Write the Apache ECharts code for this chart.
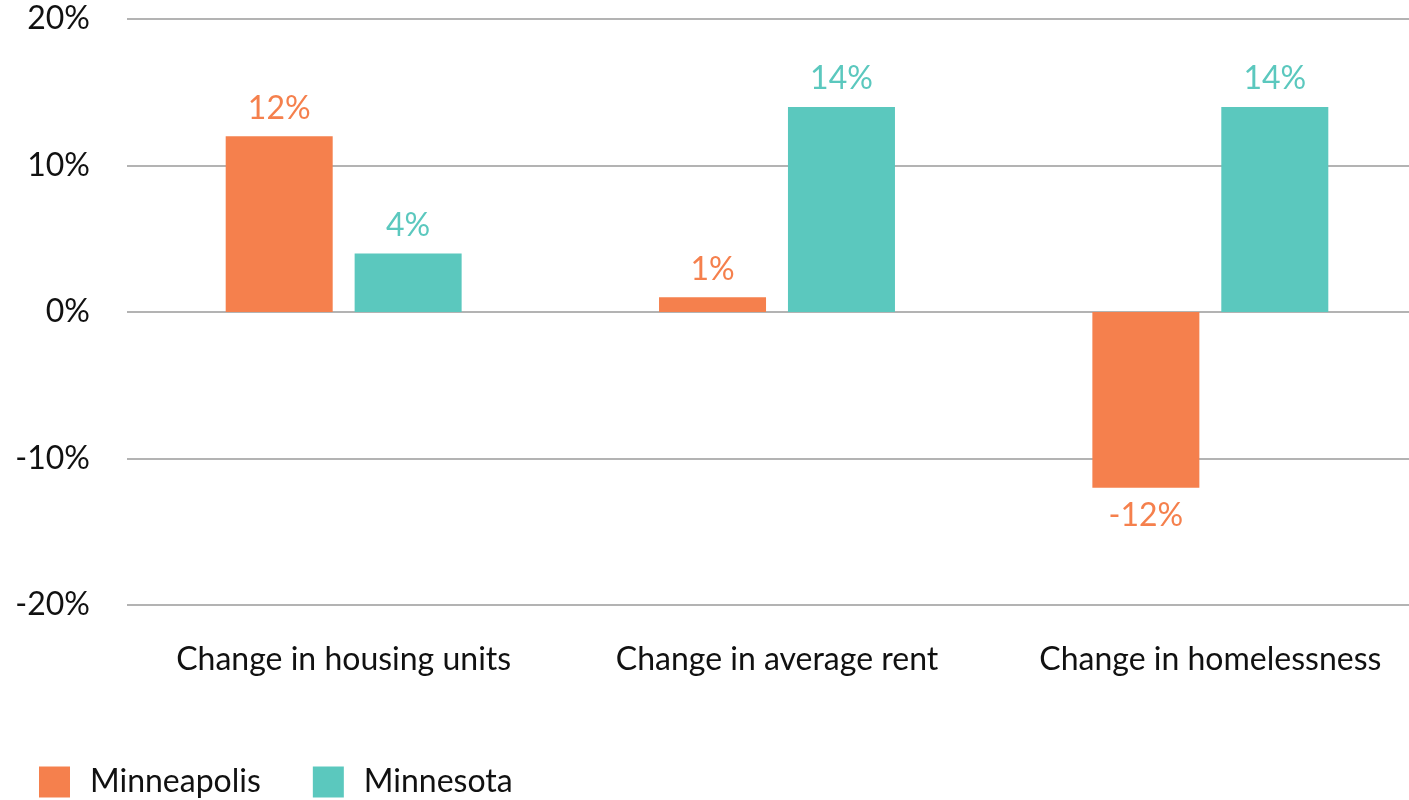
<!DOCTYPE html>
<html>
<head>
<meta charset="utf-8">
<style>
html, body { margin: 0; padding: 0; background: #fff; }
#chart { width: 1409px; height: 800px; }
</style>
<script src="https://cdn.jsdelivr.net/npm/echarts@6/dist/echarts.min.js"></script>
</head>
<body>
<div id="chart"></div>
<script>
var categories = ['Change in housing units', 'Change in average rent', 'Change in homelessness'];
var minneapolis = [12, 1, -12];
var minnesota = [4, 14, 14];

var chart = echarts.init(document.getElementById('chart'));
var font = 'Lato';
var option = {
    textStyle: { fontFamily: font },
    grid: {
        left: 127,
        right: -18,
        top: 19,
        bottom: 195,
        outerBoundsMode: 'none'
    },
    legend: {
        left: 39,
        bottom: 2,
        padding: 0,
        itemWidth: 31,
        itemHeight: 31,
        itemGap: 52,
        icon: 'rect',
        textStyle: {
            fontFamily: font,
            fontSize: 32,
            color: '#111',
            padding: [0, 0, 0, 15]
        },
        data: ['Minneapolis', 'Minnesota']
    },
    xAxis: {
        type: 'category',
        data: categories,
        axisLine: { show: false },
        axisTick: { show: false },
        axisLabel: {
            interval: 0,
            fontFamily: font,
            fontSize: 32,
            color: '#111',
            margin: 39
        }
    },
    yAxis: {
        type: 'value',
        min: -20,
        max: 20,
        interval: 10,
        axisLine: { show: false },
        axisTick: { show: false },
        axisLabel: {
            fontFamily: font,
            fontSize: 32,
            color: '#111',
            margin: 37,
            formatter: '{value}%'
        },
        splitLine: { lineStyle: { color: '#b3b3b3', width: 2 } }
    },
    series: [
        {
            name: 'Minneapolis',
            type: 'bar',
            data: minneapolis,
            barWidth: 107,
            barGap: '20.5%',
            itemStyle: { color: '#F5804D' },
            label: {
                show: true,
                position: 'outside',
                distance: 12,
                fontFamily: font,
                fontSize: 32,
                color: '#F5804D',
                formatter: '{c}%'
            }
        },
        {
            name: 'Minnesota',
            type: 'bar',
            data: minnesota,
            barWidth: 107,
            barGap: '20.5%',
            itemStyle: { color: '#5BC8BE' },
            label: {
                show: true,
                position: 'top',
                distance: 12,
                fontFamily: font,
                fontSize: 32,
                color: '#5BC8BE',
                formatter: '{c}%'
            }
        }
    ]
};
chart.setOption(option);
</script>
</body>
</html>
